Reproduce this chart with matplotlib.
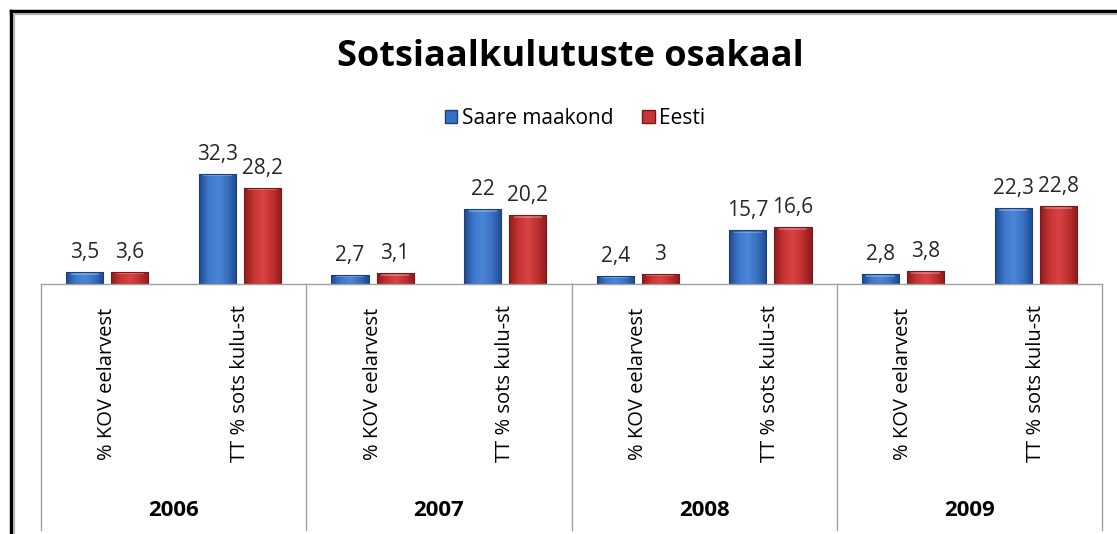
import matplotlib
matplotlib.use("Agg")
import matplotlib.pyplot as plt
import numpy as np
from matplotlib.colors import LinearSegmentedColormap
from matplotlib.lines import Line2D
from matplotlib.patches import Rectangle

plt.rcParams['font.family'] = ['Open Sans', 'DejaVu Sans']

years = ['2006', '2007', '2008', '2009']
categories = ['% KOV eelarvest', 'TT % sots kulu-st']
saare = [3.5, 32.3, 2.7, 22.0, 2.4, 15.7, 2.8, 22.3]
eesti = [3.6, 28.2, 3.1, 20.2, 3.0, 16.6, 3.8, 22.8]
saare_lbl = ['3,5', '32,3', '2,7', '22', '2,4', '15,7', '2,8', '22,3']
eesti_lbl = ['3,6', '28,2', '3,1', '20,2', '3', '16,6', '3,8', '22,8']
series = ['Saare maakond', 'Eesti']

W, H = 1117, 534
fig = plt.figure(figsize=(W / 100, H / 100), dpi=100)
fig.patch.set_facecolor('white')

# plot area in pixels
x0, x1 = 41, 1102
base = 284
top = 130
ppu = 3.42  # pixels per unit
ax = fig.add_axes([x0 / W, 1 - base / H, (x1 - x0) / W, (base - top) / H])
ax.set_xlim(0, 8)
ax.set_ylim(0, (base - top) / ppu)
ax.axis('off')

blue_cm = LinearSegmentedColormap.from_list('b', ['#1d4a8f', '#3f78cc', '#4a86d8', '#3a70c0', '#1d4a8f'])
red_cm = LinearSegmentedColormap.from_list('r', ['#8e1c1c', '#c83434', '#d84444', '#c03030', '#8e1c1c'])
grad = np.linspace(0, 1, 64).reshape(1, -1)

bw = 0.28
off = 0.17
centers = np.arange(8) + 0.5
for i, c in enumerate(centers):
    for val, lbl, cm, edge, dx in [(saare[i], saare_lbl[i], blue_cm, '#1b3f7a', -off),
                                    (eesti[i], eesti_lbl[i], red_cm, '#7a1818', off)]:
        xl = c + dx - bw / 2
        im = ax.imshow(grad, cmap=cm, aspect='auto', extent=[xl, xl + bw, 0, val],
                       interpolation='bicubic', zorder=2)
        r = Rectangle((xl, 0), bw, val, facecolor='none', edgecolor=edge, lw=0.8, zorder=3)
        ax.add_patch(r)
        im.set_clip_path(r)
        # light bevel at top
        hl = min(0.9, val * 0.25)
        ax.add_patch(Rectangle((xl + bw * 0.12, val - hl * 0.9), bw * 0.76, hl * 0.5,
                               facecolor='white', alpha=0.25, lw=0, zorder=4))
        ax.text(c + dx, val + 14 / ppu, lbl, ha='center', va='baseline', fontsize=15,
                color='#262626', clip_on=False)

# baseline and separators
fig.add_artist(Line2D([x0 / W, x1 / W], [1 - base / H] * 2, color='#a0a0a0', lw=1))
for k in range(5):
    xs = (x0 + k * (x1 - x0) / 4) / W
    fig.add_artist(Line2D([xs, xs], [1 - base / H, 1 - 530 / H], color='#a0a0a0', lw=1))

# category labels and years
for i, c in enumerate(centers):
    xp = (x0 + c * (x1 - x0) / 8) / W
    fig.text(xp, 1 - 384 / H, categories[i % 2], rotation=90, ha='center', va='center',
             fontsize=14.5, color='black')
for j, yr in enumerate(years):
    xp = (x0 + (2 * j + 1) * (x1 - x0) / 8) / W
    fig.text(xp, 1 - 510 / H, yr, ha='center', va='center', fontsize=16, fontweight='bold')

# title and legend
fig.text(570 / W, 1 - 57 / H, 'Sotsiaalkulutuste osakaal', ha='center', va='center',
         fontsize=26, fontweight='bold')
handles = [Rectangle((0, 0), 1, 1, facecolor='#3a70c0', edgecolor='#1b3f7a'),
           Rectangle((0, 0), 1, 1, facecolor='#c83434', edgecolor='#7a1818')]
fig.legend(handles, series, loc='center', bbox_to_anchor=(575 / W, 1 - 118 / H), ncol=2,
           frameon=False, fontsize=15, handlelength=0.6, handleheight=0.6,
           handletextpad=0.2, columnspacing=1.4)

# outer frame
fig.add_artist(Line2D([11 / W, 1], [1 - 11 / H] * 2, color='black', lw=2.5))
fig.add_artist(Line2D([11 / W] * 2, [1 - 11 / H, 0], color='black', lw=2.5))
fig.add_artist(Line2D([14 / W, 1], [1 - 14 / H] * 2, color='#b0b0b0', lw=1.5))
fig.add_artist(Line2D([14 / W] * 2, [1 - 14 / H, 0], color='#b0b0b0', lw=1.5))

fig.savefig('out.png', dpi=100, facecolor='white')
